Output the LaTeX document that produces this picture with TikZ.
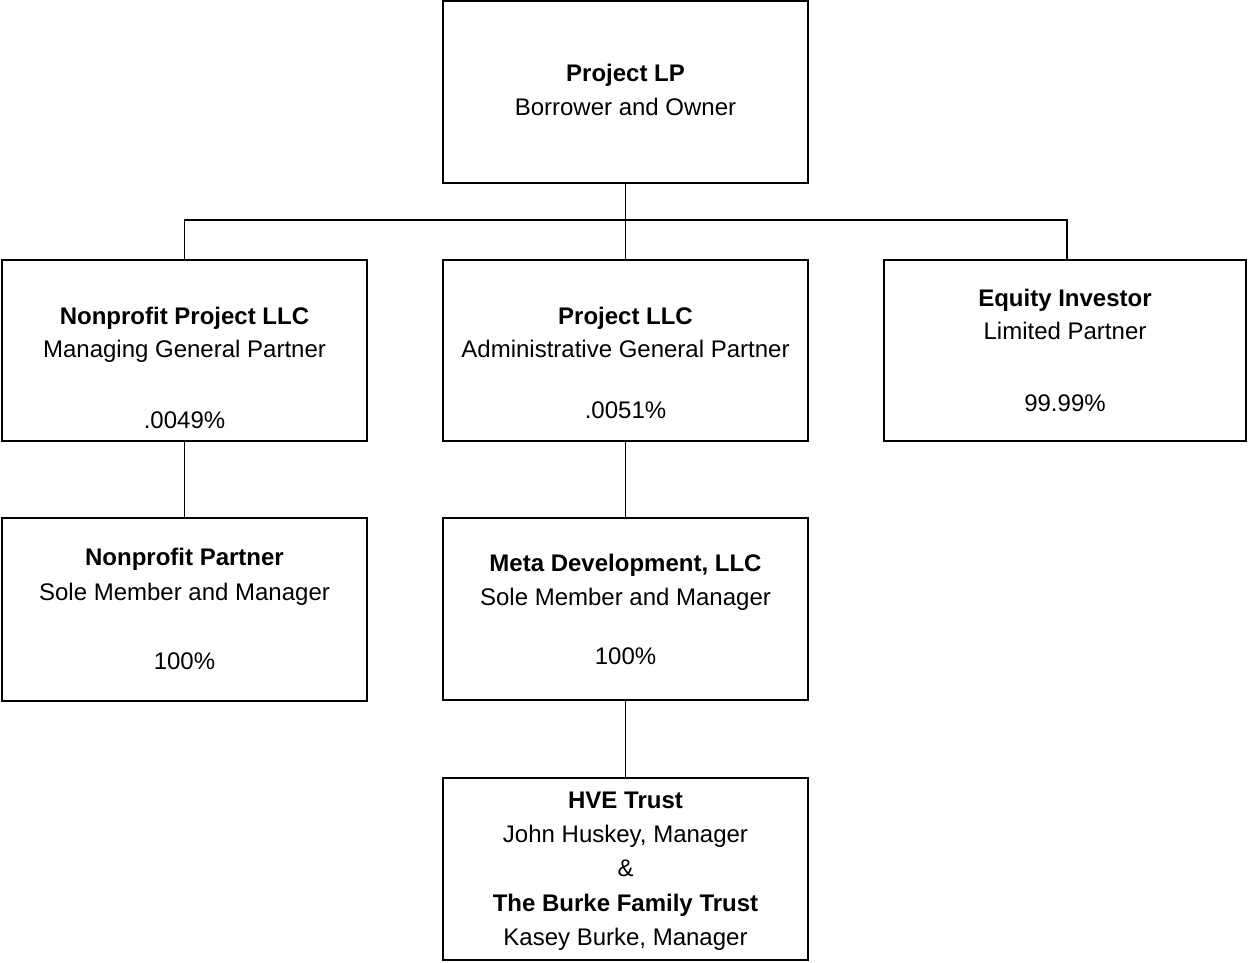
\documentclass[tikz,border=0pt]{standalone}
\usepackage{fontspec}
\setmainfont{Liberation Sans}
\begin{document}
\begin{tikzpicture}[x=1pt,y=-1pt,
  box/.style={draw, line width=1.6pt, inner sep=0pt},
  txt/.style={anchor=base, inner sep=0pt, font=\fontsize{24}{29}\selectfont},
  btxt/.style={anchor=base, inner sep=0pt, font=\fontsize{24}{29}\selectfont\bfseries},
  conn/.style={line width=1.8pt}]
\useasboundingbox (0,0) rectangle (1248,962);
% boxes
\node[box, minimum width=365pt, minimum height=182pt] (lp) at (625.5,92) {};
\node[box, minimum width=365pt, minimum height=181pt] (npllc) at (184.5,350.5) {};
\node[box, minimum width=365pt, minimum height=181pt] (pllc) at (625.5,350.5) {};
\node[box, minimum width=362pt, minimum height=181pt] (eq) at (1065,350.5) {};
\node[box, minimum width=365pt, minimum height=183pt] (npp) at (184.5,609.5) {};
\node[box, minimum width=365pt, minimum height=182pt] (meta) at (625.5,609) {};
\node[box, minimum width=365pt, minimum height=182pt] (hve) at (625.5,869) {};
% connectors
\coordinate (eqtop) at ([xshift=2pt]eq.north);
\draw[conn] (lp.south) -- (pllc.north);
\draw[conn] (npllc.north) -- ++(0,-39) -| (eqtop);
\draw[conn] (npllc.south) -- (npp.north);
\draw[conn] (pllc.south) -- (meta.north);
\draw[conn] (meta.south) -- (hve.north);
% texts
\node[btxt] (lp1) at (625.5,81) {Project LP};
\node[txt] (lp2) at (625.5,115) {Borrower and Owner};
\node[btxt] (np1) at (184.5,324) {Nonprofit Project LLC};
\node[txt] (np2) at (184.5,357) {Managing General Partner};
\node[txt] (np3) at (184.5,428) {.0049\%};
\node[btxt] (pl1) at (625.5,324) {Project LLC};
\node[txt] (pl2) at (625.5,357) {Administrative General Partner};
\node[txt] (pl3) at (625.5,418) {.0051\%};
\node[btxt] (eq1) at (1065,306) {Equity Investor};
\node[txt] (eq2) at (1065,339) {Limited Partner};
\node[txt] (eq3) at (1065,411) {99.99\%};
\node[btxt] (pp1) at (184.5,565) {Nonprofit Partner};
\node[txt] (pp2) at (184.5,600) {Sole Member and Manager};
\node[txt] (pp3) at (184.5,669) {100\%};
\node[btxt] (md1) at (625.5,571) {Meta Development, LLC};
\node[txt] (md2) at (625.5,605) {Sole Member and Manager};
\node[txt] (md3) at (625.5,664) {100\%};
\node[btxt] (hv1) at (625.5,808) {HVE Trust};
\node[txt] (hv2) at (625.5,842) {John Huskey, Manager};
\node[txt] (hv3) at (625.5,876) {\&};
\node[btxt] (hv4) at (625.5,911) {The Burke Family Trust};
\node[txt] (hv5) at (625.5,945) {Kasey Burke, Manager};
\end{tikzpicture}
\end{document}
